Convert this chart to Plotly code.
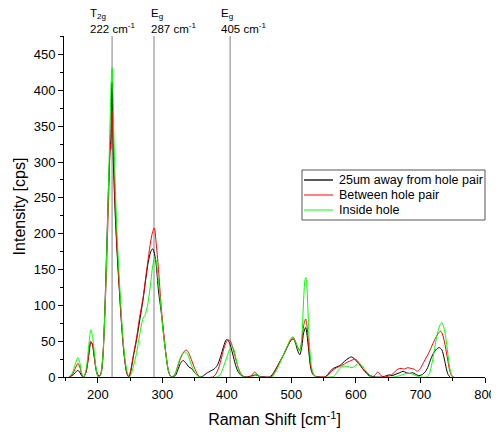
import plotly.graph_objects as go

# ---- data ----
x_black = [155, 160, 165, 168, 171, 174, 177, 181, 185, 189, 191, 194, 198, 202, 205, 208, 211, 214, 217, 219, 220, 221, 222, 223, 224, 227, 230, 233, 237, 241, 245, 248, 251, 255, 260, 265, 270, 274, 278, 282, 285, 287, 290, 294, 298, 302, 305, 309, 312, 315, 320, 324, 328, 332, 336, 341, 345, 350, 355, 360, 364, 368, 372, 376, 380, 385, 390, 395, 399, 402, 405, 409, 413, 417, 421, 425, 430, 440, 445, 450, 460, 466, 470, 475, 480, 485, 490, 495, 500, 503, 506, 510, 513, 516, 519, 522, 524, 527, 530, 533, 537, 545, 551, 555, 560, 565, 570, 575, 580, 585, 590, 593, 597, 600, 605, 610, 615, 620, 625, 630, 640, 648, 652, 656, 662, 668, 673, 678, 683, 688, 692, 697, 702, 708, 712, 716, 720, 725, 729, 733, 737, 740, 743, 746]
y_black = [0, 2, 6, 9, 8, 3, 0, 5, 25, 48, 47, 30, 8, 1, 5, 30, 100, 190, 280, 318, 330, 380, 411, 370, 300, 225, 170, 125, 70, 28, 5, 0, 8, 29, 52, 80, 108, 135, 160, 175, 179, 175, 160, 120, 92, 58, 35, 10, 2, 0, 2, 10, 19, 23, 20, 14, 12, 6, 2, 0, 2, 5, 7, 9, 11, 16, 28, 43, 52, 51, 45, 32, 18, 8, 3, 1, 0, 2, 3, 1, 0, 0, 3, 10, 18, 26, 35, 45, 52, 53, 48, 36, 31, 42, 62, 69, 60, 35, 12, 4, 1, 0, 0, 2, 8, 12, 14, 16, 20, 24, 27, 28, 26, 23, 18, 12, 7, 3, 1, 0, 0, 2, 3, 2, 4, 6, 8, 6, 5, 6, 4, 2, 3, 8, 15, 25, 33, 39, 41, 38, 25, 12, 3, 0]

x_red = [155, 160, 165, 169, 172, 175, 178, 182, 186, 189, 192, 195, 198, 201, 204, 207, 210, 213, 216, 218, 219, 220, 221, 222, 223, 225, 228, 231, 234, 238, 242, 245, 248, 251, 255, 260, 265, 270, 274, 278, 282, 285, 287.5, 290, 294, 298, 302, 305, 309, 312, 315, 320, 325, 330, 334, 337.5, 341, 345, 350, 355, 358, 378, 382, 387, 392, 396, 400, 403, 406, 410, 414, 418, 422, 425, 430, 436, 440, 443, 446, 450, 455, 468, 472, 478, 484, 490, 496, 500, 503, 506, 510, 513, 516, 519, 522, 524, 527, 530, 533, 537, 542, 552, 556, 560, 565, 570, 575, 580, 585, 590, 595, 598, 602, 606, 611, 616, 621, 625, 630, 634, 638, 642, 650, 655, 660, 665, 670, 675, 680, 685, 690, 695, 699, 703, 707, 712, 717, 722, 727, 731, 734, 738, 742, 745, 748, 750]
y_red = [0, 3, 12, 19, 14, 4, 0, 8, 32, 50, 44, 25, 6, 0, 3, 22, 70, 140, 230, 290, 325, 318, 350, 372, 350, 290, 215, 160, 115, 60, 22, 5, 0, 10, 30, 55, 85, 110, 138, 165, 190, 203, 208, 190, 150, 100, 62, 36, 10, 2, 0, 5, 18, 30, 36, 37.5, 33, 24, 12, 3, 0, 0, 3, 12, 28, 42, 50, 52, 49, 38, 24, 12, 4, 1, 0, 0, 4, 7, 5, 1, 0, 0, 4, 14, 25, 35, 46, 53, 55, 50, 41, 38, 50, 72, 81, 72, 42, 15, 6, 1, 0, 0, 2, 6, 10, 13, 15, 17, 20, 22, 24, 25, 23, 18, 11, 5, 1, 0, 3, 7, 3, 0, 1, 3, 7, 11, 12, 11, 13, 12, 11, 8, 11, 17, 24, 32, 42, 52, 60, 64, 60, 45, 25, 10, 2, 0]

x_green = [155, 160, 165, 169, 172, 175, 178, 182, 186, 189, 192, 195, 198, 201, 204, 207, 210, 213, 216, 219, 221, 222, 223, 225, 228, 231, 234, 238, 242, 246, 249, 252, 256, 260, 265, 270, 273, 277, 281, 285, 288, 290, 293, 297, 301, 305, 309, 312, 315, 320, 325, 330, 335, 339, 343, 348, 353, 358, 385, 390, 395, 400, 404, 408, 411, 415, 419, 423, 426, 440, 444, 448, 452, 470, 474, 480, 486, 492, 498, 502, 506, 510, 513, 516, 519, 521, 522.5, 524, 526, 528, 531, 534, 538, 560, 566, 570, 575, 580, 585, 590, 594, 598, 602, 606, 610, 615, 620, 624, 660, 668, 675, 680, 685, 690, 695, 700, 710, 714, 718, 722, 726, 730, 733, 736, 740, 743, 746, 749, 752]
y_green = [0, 5, 18, 27, 20, 5, 0, 12, 45, 66, 55, 30, 8, 0, 2, 20, 70, 150, 250, 360, 420, 432, 410, 330, 240, 175, 125, 65, 25, 5, 0, 5, 18, 34, 60, 82, 86, 100, 125, 155, 166, 163, 140, 105, 65, 35, 10, 2, 0, 5, 20, 31, 35, 32, 22, 10, 3, 0, 0, 4, 15, 28, 38, 43, 38, 22, 8, 2, 0, 0, 4, 2, 0, 0, 5, 15, 28, 40, 52, 56, 50, 40, 36, 55, 110, 136, 139, 125, 85, 45, 15, 4, 0, 0, 1, 6, 12, 15, 15, 14, 13, 15, 18, 19, 15, 9, 4, 0, 0, 2, 4, 5, 5, 3, 1, 0, 0, 5, 20, 40, 60, 72, 76, 70, 50, 28, 10, 2, 0]

series_names = ["25um away from hole pair", "Between hole pair", "Inside hole"]
series_colors = ["#000000", "#ff0000", "#00ff00"]

peak_positions = [222, 287, 405]
peak_modes = ["T<sub>2g</sub>", "E<sub>g</sub>", "E<sub>g</sub>"]
peak_labels = ["222 cm<sup>-1</sup>", "287 cm<sup>-1</sup>", "405 cm<sup>-1</sup>"]
label_shift_px = [-24, -5, -11]

x_tick_vals = [200, 300, 400, 500, 600, 700, 800]
y_tick_vals = [0, 50, 100, 150, 200, 250, 300, 350, 400, 450]

FONT = "Liberation Sans, Arial, sans-serif"

fig = go.Figure()
for xs, ys, name, col in zip([x_black, x_red, x_green], [y_black, y_red, y_green],
                             series_names, series_colors):
    fig.add_trace(go.Scatter(
        x=xs, y=ys, name=name, mode="lines", showlegend=False,
        line=dict(color=col, width=1, shape="spline", smoothing=0.8),
    ))

for px, mode, lab, sh in zip(peak_positions, peak_modes, peak_labels, label_shift_px):
    fig.add_shape(type="line", x0=px, x1=px, xref="x", y0=0, y1=1, yref="paper",
                  line=dict(color="#808080", width=1), layer="below")
    fig.add_annotation(x=px, xref="x", y=1, yref="paper", xanchor="left", yanchor="middle",
                       xshift=sh, yshift=22, showarrow=False, align="left", text=mode,
                       font=dict(family=FONT, size=11.5, color="#000000"))
    fig.add_annotation(x=px, xref="x", y=1, yref="paper", xanchor="left", yanchor="middle",
                       xshift=sh, yshift=8, showarrow=False, align="left", text=lab,
                       font=dict(family=FONT, size=11.5, color="#000000"))

# legend box (drawn in paper coordinates, matching the reference layout)
leg_x0, leg_x1, leg_y0, leg_y1 = 0.5653, 1.0, 0.4604, 0.607
leg_rows = [0.5777, 0.5337, 0.4897]
fig.add_shape(type="rect", xref="paper", yref="paper", x0=leg_x0, x1=leg_x1, y0=leg_y0, y1=leg_y1,
              line=dict(color="#555555", width=1), fillcolor="white", layer="above")
for name, col, ry in zip(series_names, series_colors, leg_rows):
    fig.add_shape(type="line", xref="paper", yref="paper", x0=0.5701, x1=0.639, y0=ry, y1=ry,
                  line=dict(color=col, width=1.3 if col == "#000000" else 1), layer="above")
    fig.add_annotation(xref="paper", yref="paper", x=0.6475, y=ry, xanchor="left", yanchor="middle",
                       text=name, showarrow=False,
                       font=dict(family=FONT, size=12.5, color="#000000"))

# the page places the figure 8px in from the top-left corner, so the figure is
# 8px smaller and its left/top margins are 8px smaller
fig.update_layout(
    width=491, height=426,
    margin=dict(l=56, r=14, t=28, b=57, autoexpand=False),
    paper_bgcolor="white", plot_bgcolor="white",
    font=dict(family=FONT, size=13, color="#000000"),
    showlegend=False,
    xaxis=dict(range=[147.5, 800], tickvals=x_tick_vals, showgrid=False, zeroline=False,
               showline=True, linecolor="#000000", linewidth=1, automargin=False,
               ticks="outside", ticklen=5, tickwidth=1, tickcolor="#000000",
               minor=dict(ticks="outside", ticklen=3, dtick=50, tick0=0, tickcolor="#000000"),
               title=dict(text="Raman Shift [cm<sup>-1</sup>]", font=dict(size=16), standoff=13),
               tickfont=dict(size=13)),
    yaxis=dict(range=[0, 476], tickvals=y_tick_vals, showgrid=False, zeroline=False,
               showline=True, linecolor="#000000", linewidth=1, automargin=False,
               ticks="outside", ticklen=5, tickwidth=1, tickcolor="#000000",
               minor=dict(ticks="outside", ticklen=3, dtick=25, tick0=0, tickcolor="#000000"),
               title=dict(text="Intensity [cps]", font=dict(size=16), standoff=4),
               tickfont=dict(size=13)),
)

fig.write_html("out.html")
